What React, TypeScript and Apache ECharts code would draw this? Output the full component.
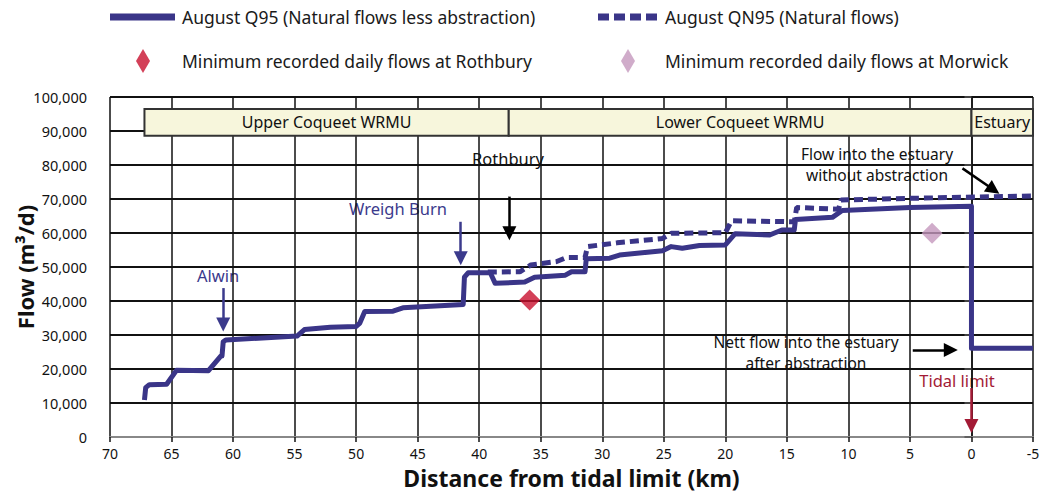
import React, { useEffect, useRef } from "react";
import * as echarts from "echarts";

// ---- Data (distance from tidal limit in km, flow in m3/d) ----
const Q95_KM = [67.2, 67.1, 66.8, 65.4, 64.6, 62.0, 61.0, 60.9, 60.8, 60.6, 54.8, 54.2, 52.1, 50.0, 49.7, 49.3, 47.0, 46.2, 41.3, 41.2, 40.9, 39.1, 38.7, 36.3, 35.5, 33.0, 32.5, 31.4, 31.3, 29.4, 28.6, 25.1, 24.4, 23.5, 22.1, 20.0, 19.2, 16.4, 15.4, 14.4, 14.3, 11.3, 10.5, 5.0, 0.0, 0.0, -5.0];
const Q95_FLOW = [10900, 14500, 15400, 15500, 19600, 19500, 23800, 23800, 28000, 28500, 29700, 31600, 32300, 32500, 33500, 36900, 37000, 38000, 39000, 47000, 48300, 48300, 45200, 45600, 47000, 47600, 48600, 48600, 52400, 52600, 53500, 54800, 56000, 55500, 56300, 56500, 59800, 59400, 60900, 60900, 64000, 64600, 66600, 67500, 67900, 26100, 26100];

const QN95_KM = [39.3, 36.7, 35.8, 33.7, 32.9, 31.4, 31.2, 28.8, 25.1, 24.4, 20.0, 19.5, 14.4, 14.2, 10.8, 10.6, 5.0, -5.0];
const QN95_FLOW = [48500, 48600, 50600, 51600, 52800, 52800, 56000, 57100, 58400, 59900, 60100, 63600, 63300, 67500, 67000, 69700, 70200, 70900];

const ROTHBURY_MIN = [[35.9, 40300]];
const MORWICK_MIN = [[3.2, 59900]];

const BANDS = [
  { name: "Upper Coqueet WRMU", from: 67.2, to: 37.6 },
  { name: "Lower Coqueet WRMU", from: 37.6, to: 0 },
  { name: "Estuary", from: 0, to: -5 },
];
const BAND_LOW = 88600;
const BAND_HIGH = 96500;

const SERIES_NAMES = [
  "August Q95 (Natural flows less abstraction)",
  "August QN95 (Natural flows)",
  "Minimum recorded daily flows at Rothbury",
  "Minimum recorded daily flows at Morwick",
];

// Annotation arrows in data coordinates: [x1, y1, x2, y2, colour]
const ARROWS: [number, number, number, number, string][] = [
  [60.8, 43800, 60.8, 33100, "#3b3a8c"],
  [41.5, 63300, 41.5, 52600, "#3b3a8c"],
  [37.55, 70700, 37.55, 59900, "#000000"],
  [0.73, 79000, -1.8, 72700, "#000000"],
  [4.77, 25600, 1.68, 25600, "#000000"],
  [0.0, 14400, 0.0, 3200, "#a31a35"],
];

const NAVY = "#3a3588";
const FONT = "Noto Sans";
const DASH_ICON = "path://M0,0h11v7h-11z M16,0h11v7h-11z M32,0h11v7h-11z M48,0h11v7h-11z";

export default function App() {
  const ref = useRef<HTMLDivElement>(null);

  useEffect(() => {
    if (!ref.current) return;
    const chart = echarts.init(ref.current, null, { renderer: "svg" });

    const solid = Q95_KM.map((k, i) => [k, Q95_FLOW[i]]);
    const dashed = QN95_KM.map((k, i) => [k, QN95_FLOW[i]]);

    const txt = (text: string, x: number, y: number, fill: string, size = 16.5) => ({
      type: "text",
      x,
      y,
      style: {
        text,
        fill,
        font: `${size}px "${FONT}"`,
        textAlign: "center",
        textVerticalAlign: "middle",
        align: "center",
        verticalAlign: "middle",
      },
      silent: true,
    });

    const legendBase = {
      orient: "horizontal",
      padding: 0,
      selectedMode: false,
    };
    const lt = (pad: number) => ({
      fontFamily: FONT,
      fontSize: 17.5,
      color: "#1a1a1a",
      padding: [0, 0, 0, pad],
    });

    chart.setOption({
      animation: false,
      textStyle: { fontFamily: FONT },
      grid: {
        left: 110,
        right: 9,
        top: 97,
        bottom: 63,
        containLabel: false,
        outerBoundsMode: "none",
      },
      legend: [
        {
          ...legendBase,
          left: 110,
          top: 8,
          itemWidth: 65,
          itemHeight: 7,
          data: [{ name: SERIES_NAMES[0], icon: "rect" }],
          textStyle: lt(2),
        },
        {
          ...legendBase,
          left: 598,
          top: 8,
          itemWidth: 59,
          itemHeight: 7,
          data: [{ name: SERIES_NAMES[1], icon: DASH_ICON }],
          textStyle: lt(3),
        },
        {
          ...legendBase,
          left: 136,
          top: 49,
          itemWidth: 14,
          itemHeight: 24,
          data: [{ name: SERIES_NAMES[2], icon: "diamond" }],
          textStyle: lt(27),
        },
        {
          ...legendBase,
          left: 621,
          top: 49,
          itemWidth: 14,
          itemHeight: 24,
          data: [{ name: SERIES_NAMES[3], icon: "diamond" }],
          textStyle: lt(25),
        },
      ],
      xAxis: {
        type: "value",
        inverse: true,
        min: -5,
        max: 70,
        interval: 5,
        name: "Distance from tidal limit (km)",
        nameLocation: "middle",
        nameGap: 29,
        nameMoveOverlap: false,
        nameTextStyle: {
          fontFamily: FONT,
          fontSize: 23,
          fontWeight: "bold",
          color: "#111",
        },
        axisLine: { show: true, lineStyle: { color: "#888", width: 2 } },
        axisTick: { show: true, length: 5, lineStyle: { color: "#111", width: 1.5 } },
        axisLabel: { fontFamily: FONT, fontSize: 14, color: "#111", margin: 9 },
        splitLine: { show: true, lineStyle: { color: "#111", width: 1.5 } },
      },
      yAxis: {
        type: "value",
        min: 0,
        max: 100000,
        interval: 10000,
        name: "Flow (m³/d)",
        nameLocation: "middle",
        nameGap: 74,
        nameMoveOverlap: false,
        nameTextStyle: {
          fontFamily: FONT,
          fontSize: 22,
          fontWeight: "bold",
          color: "#111",
        },
        axisLine: { show: true, lineStyle: { color: "#111", width: 1.5 } },
        axisTick: { show: true, length: 7, lineStyle: { color: "#555", width: 1.5 } },
        axisLabel: {
          fontFamily: FONT,
          fontSize: 14.5,
          color: "#111",
          margin: 23,
          formatter: (v: number) => v.toLocaleString("en-GB"),
        },
        splitLine: { show: true, lineStyle: { color: "#111", width: 2 } },
      },
      series: [
        {
          name: SERIES_NAMES[0],
          type: "line",
          data: solid,
          showSymbol: false,
          symbol: "none",
          color: NAVY,
          lineStyle: { color: NAVY, width: 5, join: "round" },
          z: 5,
          markArea: {
            silent: true,
            itemStyle: { color: "#f7f6dc", borderColor: "#333", borderWidth: 2 },
            label: { show: true, position: "inside", color: "#111", fontFamily: FONT, fontSize: 16 },
            data: BANDS.map((b) => [
              { name: b.name, coord: [b.from, BAND_HIGH] },
              { coord: [b.to, BAND_LOW] },
            ]),
          },
          markLine: {
            silent: true,
            symbol: ["none", "triangle"],
            symbolSize: 14,
            label: { show: false },
            emphasis: { disabled: true },
            data: ARROWS.map(([x1, y1, x2, y2, c]) => [
              { coord: [x1, y1], lineStyle: { color: c, width: 2.5, type: "solid" }, itemStyle: { color: c } },
              { coord: [x2, y2], itemStyle: { color: c } },
            ]),
          },
        },
        {
          name: SERIES_NAMES[1],
          type: "line",
          data: dashed,
          showSymbol: false,
          symbol: "none",
          color: NAVY,
          lineStyle: { color: NAVY, width: 5, type: [9, 5] },
          z: 4,
        },
        {
          name: SERIES_NAMES[2],
          type: "scatter",
          data: ROTHBURY_MIN,
          symbol: "diamond",
          symbolSize: 21,
          itemStyle: { color: "#c8102e" },
          z: 6,
        },
        {
          name: SERIES_NAMES[3],
          type: "scatter",
          data: MORWICK_MIN,
          symbol: "diamond",
          symbolSize: 21,
          itemStyle: { color: "#c497bd" },
          z: 6,
        },
      ],
      graphic: [
        txt("Alwin", 218, 275, "#3b3a8c"),
        txt("Wreigh Burn", 398, 208, "#3b3a8c"),
        txt("Rothbury", 508, 158, "#111"),
        txt("Flow into the estuary", 877, 154, "#111", 15.5),
        txt("without abstraction", 877, 175, "#111", 15.5),
        txt("Nett flow into the estuary", 806, 342, "#111", 15.5),
        txt("after abstraction", 806, 363, "#111", 15.5),
        txt("Tidal limit", 957, 380, "#a31a35"),
      ],
    });

    return () => chart.dispose();
  }, []);

  return (
    <div
      ref={ref}
      style={{ position: "absolute", left: 0, top: 0, width: 1042, height: 500 }}
    />
  );
}
